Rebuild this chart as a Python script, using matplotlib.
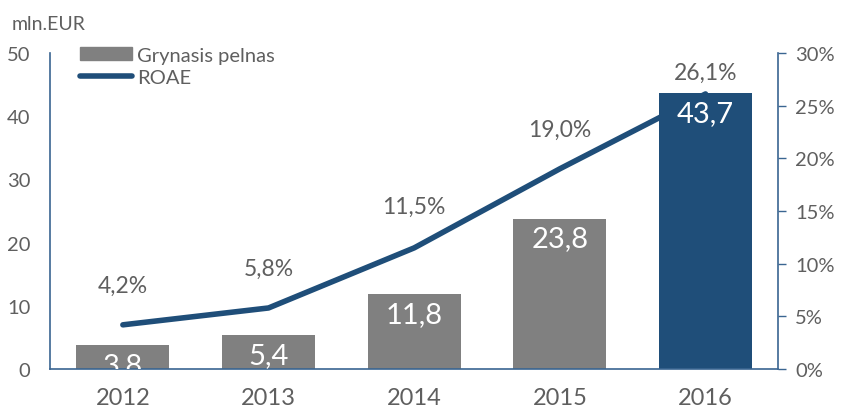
import matplotlib.pyplot as plt
from matplotlib.lines import Line2D
from matplotlib.patches import Patch

# Duomenys
metai = ['2012', '2013', '2014', '2015', '2016']
pelnas = [3.8, 5.4, 11.8, 23.8, 43.7]
roae = [4.2, 5.8, 11.5, 19.0, 26.1]
pelnas_txt = ['3,8', '5,4', '11,8', '23,8', '43,7']
roae_txt = ['4,2%', '5,8%', '11,5%', '19,0%', '26,1%']

pilka = '#808080'
melyna = '#1F4E79'
asis = '#3A6591'
tekstas = '#5f5f5f'

plt.rcParams['font.family'] = ['Lato', 'DejaVu Sans']

fig = plt.figure(figsize=(8.41, 4.14), dpi=100)
ax = fig.add_axes([0.0595, 0.106, 0.866, 0.764])
ax2 = ax.twinx()

x = list(range(len(metai)))
spalvos = [pilka] * 4 + [melyna]

# linija apacioje, stulpeliai virsuje
ax2.plot(x, roae, color=melyna, lw=4, solid_capstyle='round', zorder=1)
ax2.set_ylim(0, 30)
ax.set_zorder(ax2.get_zorder() + 1)
ax.patch.set_visible(False)

stulp = ax.bar(x, pelnas, width=0.64, color=spalvos, zorder=2)
ax.set_ylim(0, 50)
ax.set_xlim(-0.5, 4.5)

for b, t in zip(stulp, pelnas_txt):
    ax.annotate(t, (b.get_x() + b.get_width() / 2, b.get_height()),
                xytext=(0, -5), textcoords='offset points', ha='center', va='top',
                color='white', fontsize=21, clip_on=True, zorder=3)

poslinkiai = [21, 21, 22, 21, 8]
for xi, v, t, d in zip(x, roae, roae_txt, poslinkiai):
    ax2.annotate(t, (xi, v), xytext=(0, d), textcoords='offset points',
                 ha='center', va='bottom', color=tekstas, fontsize=16.5)

ax.set_xticks(x)
ax.set_xticklabels(metai)
ax.set_yticks(range(0, 51, 10))
ax2.set_yticks(range(0, 31, 5))
ax2.set_yticklabels([f'{v}%' for v in range(0, 31, 5)])

ax.tick_params(axis='x', length=0, pad=13, labelsize=17, labelcolor=tekstas)
ax.tick_params(axis='y', length=0, pad=14, labelsize=14.5, labelcolor=tekstas)
ax2.tick_params(axis='y', length=6, width=1, color=asis, pad=6, labelsize=14.5, labelcolor=tekstas)

for a in (ax, ax2):
    a.spines['top'].set_visible(False)
    for s in ('left', 'right', 'bottom'):
        a.spines[s].set_color(asis)
        a.spines[s].set_linewidth(1.2)
ax.spines['right'].set_visible(False)
ax2.spines['left'].set_visible(False)
ax2.spines['bottom'].set_visible(False)

rankenos = [Patch(color=pilka, label='Grynasis pelnas'),
            Line2D([0], [0], color=melyna, lw=4, solid_capstyle='round', label='ROAE')]
ax.legend(handles=rankenos, loc='upper left', bbox_to_anchor=(0.03, 1.045), frameon=False,
          fontsize=14.5, labelcolor=tekstas, handlelength=2.6, handleheight=0.55,
          handletextpad=0.25, labelspacing=0.25, borderaxespad=0)

fig.text(0.014, 0.94, 'mln.EUR', color=tekstas, fontsize=14, ha='left', va='center')

fig.savefig('out.png', dpi=100)
